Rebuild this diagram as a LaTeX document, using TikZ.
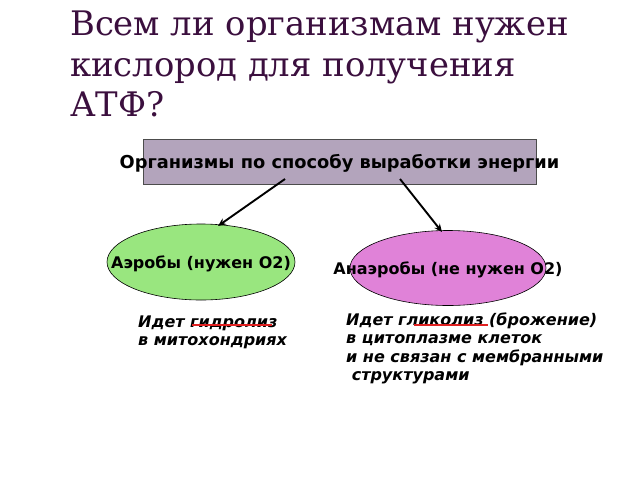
\documentclass[tikz,border=0pt]{standalone}
\usepackage{fontspec}
\setmainfont{DejaVu Sans}
\newfontfamily\titlefont{DejaVu Serif}
\usetikzlibrary{shapes.geometric,arrows.meta}
\definecolor{titlecol}{HTML}{3B0F3E}
\definecolor{boxfill}{HTML}{B3A4BC}
\definecolor{greenfill}{HTML}{99E67F}
\definecolor{pinkfill}{HTML}{E082D8}
\definecolor{redline}{HTML}{E02020}
\tikzset{
  heading/.style={anchor=base west,inner sep=0pt,font=\titlefont\fontsize{33.8}{40}\selectfont,text=titlecol},
  boxlabel/.style={inner sep=0pt,font=\bfseries\fontsize{17.8}{20}\selectfont},
  label/.style={inner sep=0pt,font=\bfseries\fontsize{16}{18}\selectfont},
  note/.style={anchor=base west,inner sep=0pt,font=\bfseries\itshape\fontsize{16}{18.7}\selectfont},
  oval/.style={ellipse,draw=black,line width=0.6pt},
  conn/.style={-{Stealth[length=8pt,width=7pt]},line width=1.9pt},
  uline/.style={redline,line width=2.4pt}
}
\begin{document}
\begin{tikzpicture}[x=1pt,y=-1pt]
\useasboundingbox (0,0) rectangle (640,480);
\node[heading] (t1) at (70,35) {Всем ли организмам нужен};
\node[heading] (t2) at (70,76) {кислород для получения};
\node[heading] (t3) at (70,116) {АТФ?};
\node[draw=black!70,fill=boxfill,minimum width=393pt,minimum height=45pt,inner sep=0pt] (box) at (339.5,161.5) {};
\node[boxlabel] (boxtxt) at (339.5,163) {Организмы по способу выработки энергии};
\node[oval,fill=greenfill,minimum width=188pt,minimum height=76pt,inner sep=0pt] (aer) at (201,262) {};
\node[label] (aertxt) at (201,264) {Аэробы (нужен O2)};
\node[oval,fill=pinkfill,minimum width=196pt,minimum height=75pt,inner sep=0pt] (ana) at (448,268) {};
\node[label] (anatxt) at (448,270) {Анаэробы (не нужен O2)};
\coordinate (s1) at (285,179);
\coordinate (s2) at (400,179);
\coordinate (e1) at (218,226);
\coordinate (e2) at (442,232);
\draw[conn] (s1) -- (e1);
\draw[conn] (s2) -- (e2);
\node[note] (l1) at (138,327) {Идет гидролиз};
\node[note] (l2) at (138,345.5) {в митохондриях};
\node[note] (r1) at (346,325) {Идет гликолиз (брожение)};
\node[note] (r2) at (346,343.5) {в цитоплазме клеток};
\node[note] (r3) at (346,362) {и не связан с мембранными};
\node[note] (r4) at (346,380.5) {\ структурами};
\coordinate (u1a) at (192,325);
\coordinate (u1b) at (272,325);
\coordinate (u2a) at (414,325);
\coordinate (u2b) at (488,325);
\draw[uline] (u1a) -- (u1b);
\draw[uline] (u2a) -- (u2b);
\end{tikzpicture}
\end{document}
